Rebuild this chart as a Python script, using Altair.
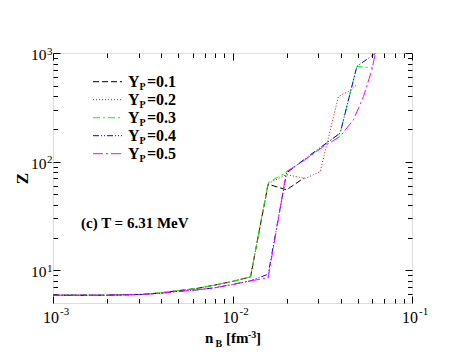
import altair as alt
import pandas as pd

FONT = "Liberation Serif"

series = ["0.1", "0.2", "0.3", "0.4", "0.5"]
colors = ["#000000", "#ff0000", "#00ff00", "#0000ff", "#ff00ff"]
dashes = [[6, 3], [1, 2], [7, 3, 2, 3], [6, 2, 1, 2, 1, 2], [10, 3, 2, 3]]

low_nb = [0.001, 0.00126, 0.00158, 0.002, 0.00251, 0.00316, 0.00398, 0.00501,
          0.00631, 0.00794, 0.01, 0.0126]
low_z_a = [5.9, 5.9, 5.9, 5.9, 5.95, 6.0, 6.2, 6.5, 6.8, 7.3, 7.9, 8.7]
low_z_b = [5.9, 5.9, 5.9, 5.9, 5.95, 6.0, 6.15, 6.4, 6.6, 6.9, 7.4, 8.0]

nb_01 = low_nb + [0.0158, 0.0200, 0.0251]
z_01 = low_z_a + [62, 55, 71]
nb_02 = low_nb + [0.0158, 0.0200, 0.0254, 0.0308, 0.0389, 0.0443, 0.0493]
z_02 = low_z_a + [63, 76, 70, 81, 398, 443, 511]
nb_03 = low_nb + [0.0158, 0.0200, 0.0251, 0.0316, 0.0398, 0.0493, 0.0607]
z_03 = low_z_a + [64, 80, 103, 138, 183, 753, 728]
nb_04 = low_nb + [0.0158, 0.0200, 0.0251, 0.0316, 0.0398, 0.0493, 0.0598, 0.0624]
z_04 = low_z_b + [9.2, 78.5, 105, 139, 183, 753, 944, 986]
nb_05 = low_nb + [0.0158, 0.0200, 0.0251, 0.0316, 0.0398, 0.0472, 0.0537, 0.0598, 0.0624]
z_05 = low_z_b + [8.5, 81, 103, 135, 171, 243, 398, 702, 986]

x_major = [0.001, 0.01, 0.1]
x_minor = [0.002, 0.003, 0.004, 0.005, 0.006, 0.007, 0.008, 0.009,
           0.02, 0.03, 0.04, 0.05, 0.06, 0.07, 0.08, 0.09]
y_major = [10, 100, 1000]
y_minor = [6, 7, 8, 9, 20, 30, 40, 50, 60, 70, 80, 90,
           200, 300, 400, 500, 600, 700, 800, 900]

rows = []
for s, nb, z in zip(series, [nb_01, nb_02, nb_03, nb_04, nb_05],
                    [z_01, z_02, z_03, z_04, z_05]):
    for i, (a, b) in enumerate(zip(nb, z)):
        rows.append({"series": s, "nB": a, "Z": b, "i": i})
df = pd.DataFrame(rows)

W, H = 359, 250
xs = alt.Scale(type="log", domain=[0.001, 0.1], nice=False)
ys = alt.Scale(type="log", domain=[5, 1000], nice=False)

common = dict(grid=False, domain=False, labelFlush=False, labelOverlap=False,
              ticks=False, tickSize=0, labelColor="black", labelFont=FONT)

x_lab = alt.Axis(orient="bottom", values=x_major, labelExpr="'10'",
                 labelFontSize=16, labelAlign="right", labelOffset=5.5,
                 labelBaseline="alphabetic", labelPadding=19, title=None, **common)
x_exp = alt.Axis(orient="bottom", values=x_major,
                 labelExpr="datum.value < 0.005 ? '-3' : (datum.value < 0.05 ? '-2' : '-1')",
                 labelFontSize=11, labelAlign="left", labelOffset=6.5,
                 labelBaseline="alphabetic", labelPadding=11, title=None, **common)
y_lab = alt.Axis(orient="left", values=y_major, labelExpr="'10'",
                 labelFontSize=15.5, labelAlign="right", labelBaseline="alphabetic",
                 labelPadding=7, labelOffset=6.5,
                 title="Z", titleFont=FONT, titleFontSize=17, titleFontWeight="bold",
                 titleAngle=270, titleX=-31, titleY=125, titleAlign="center",
                 titleBaseline="middle", titleColor="black", **common)
y_exp = alt.Axis(orient="left", values=y_major,
                 labelExpr="datum.value < 30 ? '1' : (datum.value < 300 ? '2' : '3')",
                 labelFontSize=11, labelAlign="left", labelBaseline="alphabetic",
                 labelPadding=6.5, labelOffset=1, title=None, **common)


def tick_axis(orient, values, size, offset):
    return alt.Axis(orient=orient, values=values, labels=False, ticks=True, tickSize=size,
                    tickColor="black", tickWidth=1, domain=False, grid=False, title=None,
                    offset=offset)


lines = alt.Chart(df).mark_line(strokeWidth=1, clip=True).encode(
    x=alt.X("nB:Q", scale=xs, axis=x_lab),
    y=alt.Y("Z:Q", scale=ys, axis=y_lab),
    color=alt.Color("series:N", scale=alt.Scale(domain=series, range=colors), legend=None),
    strokeDash=alt.StrokeDash("series:N", scale=alt.Scale(domain=series, range=dashes), legend=None),
    order="i:Q",
)


def ghost(xa, ya):
    return alt.Chart(df).mark_point(opacity=0).encode(
        x=alt.X("nB:Q", scale=xs, axis=xa),
        y=alt.Y("Z:Q", scale=ys, axis=ya),
    )


MAJ, MIN = 7, 4.5
layers = [
    lines,
    ghost(x_exp, y_exp),
    ghost(tick_axis("top", x_major, MAJ, -H), tick_axis("right", y_major, MAJ, -W)),
    ghost(tick_axis("top", x_minor, MIN, -H), tick_axis("right", y_minor, MIN, -W)),
    ghost(tick_axis("bottom", x_major, MAJ, -H), tick_axis("left", y_major, MAJ, -W)),
    ghost(tick_axis("bottom", x_minor, MIN, -H), tick_axis("left", y_minor, MIN, -W)),
]

one = pd.DataFrame({"a": [0]})


def txt(text, x, y, size, weight="bold", align="left"):
    return alt.Chart(one).mark_text(text=text, align=align, baseline="alphabetic", font=FONT,
                                    fontSize=size, fontWeight=weight, color="black").encode(
        x=alt.value(x), y=alt.value(y))


legend_rows = [28.7, 46.7, 64.7, 82.7, 100.7]
for s, c, d, ry in zip(series, colors, dashes, legend_rows):
    layers.append(alt.Chart(one).mark_rule(color=c, strokeDash=d, strokeWidth=1).encode(
        x=alt.value(40), x2=alt.value(69), y=alt.value(ry)))
    layers.append(txt("Y", 75, ry + 5, 16))
    layers.append(txt("P", 86.5, ry + 8.5, 10))
    layers.append(txt("=" + s, 94, ry + 5, 16))

layers += [
    txt("(c) T = 6.31 MeV", 28, 175, 15),
    txt("n", 152, 290, 15),
    txt("B", 162.5, 294, 10),
    txt("[fm", 173, 290, 15),
    txt("-3", 195, 285, 10),
    txt("]", 203, 290, 15),
]

chart = alt.layer(*layers).resolve_axis(x="independent", y="independent").properties(
    width=W, height=H,
    padding={"left": 45, "top": 45, "right": 41, "bottom": 45},
    autosize=alt.AutoSizeParams(type="none"),
).configure_view(stroke="black", strokeWidth=1.5).configure(background="white")

chart.save("out.html", embed_options={"renderer": "svg", "actions": False})
